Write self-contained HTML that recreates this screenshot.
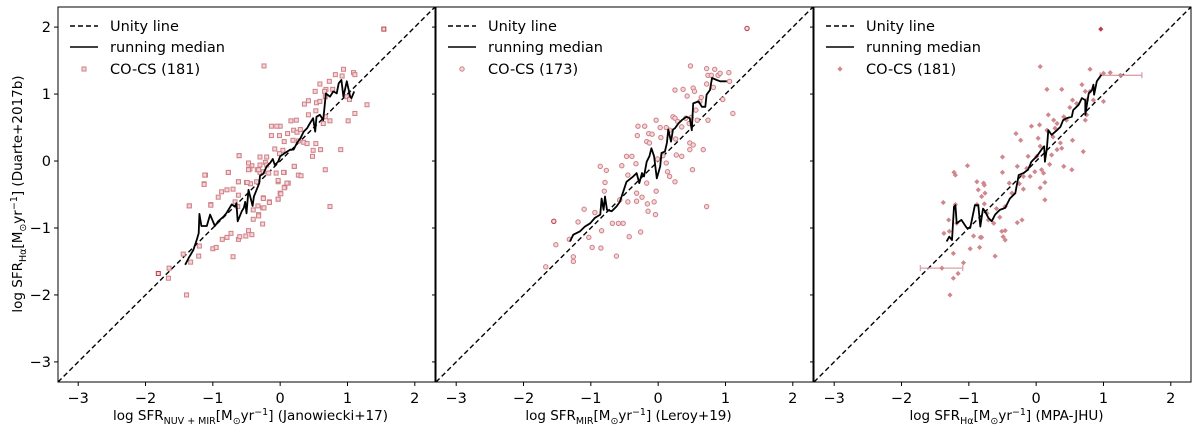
<!DOCTYPE html>
<html><head><meta charset="utf-8"><style>
body{margin:0;background:#fff}
svg{display:block;font-family:"DejaVu Sans","Liberation Sans",sans-serif}
</style></head><body>
<svg id="chart" width="1200" height="433" viewBox="0 0 1200 433" xmlns="http://www.w3.org/2000/svg">
<text transform="translate(22,194) rotate(-90)" text-anchor="middle" font-size="13.5">log SFR<tspan font-size="9.5" dy="4">Hα</tspan><tspan dy="-4">[M</tspan><tspan font-size="9.5" dy="4">⊙</tspan><tspan dy="-4">yr</tspan><tspan font-size="9.5" dy="-5">−1</tspan><tspan dy="5">] (Duarte+2017b)</tspan></text>
<g id="panels"></g>
</svg>
<script>
// Panel 1: NUV+MIR (Janowiecki+17)
const p1X=[-1.81,-1.65,-1.66,-1.39,-1.44,-1.33,-1.21,-1.20,-1.35,-1.13,-1.11,-1.03,-1.00,-0.95,-0.92,-0.87,-0.79,-0.86,-0.79,-0.73,-0.77,-0.70,-0.70,-0.62,-0.62,-0.61,-0.67,-0.63,-0.62,-0.60,-0.51,-0.47,-0.42,-0.50,-0.44,-0.47,-0.42,-0.47,-0.40,-0.32,-0.26,-0.40,-0.33,-0.26,-0.34,-0.30,-0.30,-0.20,-0.22,-0.25,-0.16,-0.06,-0.03,0.00,-0.03,0.06,0.12,0.07,0.21,0.27,-0.24,0.94,1.09,1.11,0.82,0.92,0.68,0.73,0.59,0.52,0.66,0.67,0.78,0.99,1.03,1.29,1.11,1.01,0.90,0.74,0.67,0.36,0.42,0.54,0.59,0.42,0.53,0.64,0.74,0.67,0.24,0.16,0.00,-0.05,-0.13,-0.13,-0.01,0.11,0.20,0.25,0.30,0.19,0.27,0.35,0.40,0.53,0.49,0.60,0.48,0.06,0.04,-0.08,-0.01,0.21,0.31,0.05,-0.03,0.10,0.06,0.01,-0.03,-0.61,-0.47,-0.45,-0.47,-0.30,-0.20,-0.32,-0.25,-0.17,-0.77,-0.62,-0.49,-0.35,-0.25,-0.16,-0.24,-0.32,-1.12,-1.13,-1.03,-1.35,1.54];
const p1Y=[-1.68,-1.60,-1.75,-2.00,-1.39,-1.51,-1.42,-1.27,-0.67,-0.34,-0.21,-0.65,-1.31,-1.29,-0.54,-0.46,-0.43,-1.17,-1.14,-1.08,-0.17,-1.43,-0.42,-0.51,-0.31,0.08,-0.61,-0.68,-1.17,-1.13,-1.12,-1.04,-1.10,-0.32,-0.34,-0.03,-0.07,-0.12,-0.87,-0.80,-0.94,-0.73,-0.67,-0.70,-0.13,-0.17,0.06,0.06,-0.02,-0.55,-0.61,-0.18,-0.31,-0.48,-0.57,-0.17,-0.33,-0.39,-0.08,-0.21,1.42,1.37,1.32,1.29,1.29,1.27,1.07,1.19,1.15,1.04,1.04,0.96,1.07,0.96,0.92,0.84,0.71,0.60,0.17,-0.68,-0.13,0.85,0.90,0.87,0.89,0.69,0.75,0.56,0.60,0.66,0.61,0.60,0.52,0.52,0.52,0.38,0.38,0.41,0.46,0.43,0.47,0.31,0.30,0.28,0.26,0.26,0.16,0.17,0.07,0.29,0.16,0.18,0.11,-0.08,-0.22,-0.17,-0.29,-0.33,-0.40,-0.49,-0.57,0.08,-0.03,-0.12,-0.13,-0.06,-0.06,-0.13,-0.16,-0.18,-0.17,-0.31,-0.32,-0.31,-0.56,-0.62,-0.70,-0.82,-0.21,-0.35,-0.66,-0.67,1.97];
const p1MedX=[-1.41,-1.36,-1.29,-1.24,-1.21,-1.20,-1.17,-1.09,-1.04,-0.97,-0.92,-0.84,-0.80,-0.72,-0.67,-0.65,-0.63,-0.57,-0.54,-0.52,-0.50,-0.47,-0.41,-0.39,-0.35,-0.31,-0.30,-0.25,-0.20,-0.15,-0.11,-0.08,-0.03,0.00,0.07,0.15,0.20,0.25,0.30,0.35,0.40,0.44,0.49,0.52,0.54,0.59,0.64,0.68,0.74,0.79,0.84,0.87,0.91,0.94,0.99,1.04,1.06,1.10];
const p1MedY=[-1.55,-1.45,-1.33,-1.18,-1.08,-0.79,-0.97,-0.97,-0.80,-0.97,-0.90,-0.83,-0.78,-0.65,-0.68,-0.63,-0.90,-0.75,-0.70,-0.61,-0.78,-0.43,-0.67,-0.53,-0.43,-0.33,-0.22,-0.19,-0.08,-0.03,0.03,-0.06,-0.01,0.07,0.12,0.17,0.17,0.27,0.34,0.44,0.49,0.56,0.64,0.44,0.66,0.69,0.61,1.01,0.96,1.04,1.01,1.16,1.21,0.96,1.19,0.96,0.94,1.04];

// Panel 2: MIR (Leroy+19)
const p2X=[1.32,-1.55,-1.67,-1.52,-1.26,-1.26,-1.32,-1.19,-1.10,-1.03,-0.98,-0.85,-0.84,-0.94,-0.86,-0.79,-0.77,-0.80,-0.68,-0.59,-0.52,-0.62,-0.54,-0.57,-0.43,-0.47,-0.39,-0.45,-0.45,-0.32,-0.32,-0.33,-0.30,-0.20,-0.31,-0.26,-0.24,-0.17,-0.16,-0.15,-0.14,-0.09,-0.17,-0.13,-0.04,-0.06,-0.03,-0.03,-0.01,0.03,0.04,0.07,0.12,0.17,0.14,0.17,0.12,0.22,0.25,0.25,0.37,0.29,0.35,0.26,0.27,0.35,0.25,0.41,0.46,0.49,0.48,0.43,0.47,0.52,0.47,0.51,0.52,0.54,0.56,0.58,0.67,0.64,0.62,0.72,0.74,0.72,0.72,0.74,0.79,0.84,0.89,0.92,0.82,0.96,1.05,1.06,1.11];
const p2Y=[1.98,-0.90,-1.58,-1.25,-1.43,-1.50,-1.17,-0.91,-0.72,-1.14,-1.29,-1.30,-1.04,-0.77,-0.08,-0.32,-0.14,-0.45,-0.93,-0.93,-0.93,-1.42,-0.07,-0.58,-1.13,0.07,0.07,-0.21,-0.61,-0.60,-0.48,-0.04,0.52,0.52,0.38,-1.06,-0.54,-0.33,-0.64,-0.75,0.41,0.40,0.29,0.27,-0.80,-0.61,-0.45,0.61,0.03,0.50,0.35,0.08,0.50,0.46,-0.16,-0.23,-0.03,0.66,0.64,1.06,1.07,0.59,0.51,0.33,0.09,0.07,-0.31,0.64,0.56,0.65,1.42,0.97,0.27,0.24,0.17,-0.13,1.09,1.04,0.76,0.61,0.17,0.95,0.89,1.38,1.28,1.15,-0.68,0.61,1.28,1.37,1.28,1.31,1.10,0.92,1.32,1.19,0.71];
const p2MedX=[-1.31,-1.26,-1.16,-1.09,-1.01,-0.94,-0.86,-0.84,-0.81,-0.79,-0.76,-0.69,-0.62,-0.57,-0.52,-0.47,-0.37,-0.32,-0.28,-0.24,-0.21,-0.17,-0.13,-0.10,-0.06,-0.02,0.03,0.05,0.10,0.13,0.15,0.19,0.22,0.25,0.30,0.35,0.42,0.47,0.50,0.52,0.60,0.65,0.70,0.72,0.77,0.80,0.87,0.92,1.02];
const p2MedY=[-1.20,-1.10,-1.05,-0.98,-0.93,-0.85,-0.80,-0.56,-0.73,-0.53,-0.73,-0.75,-0.68,-0.61,-0.46,-0.31,-0.23,-0.18,-0.33,-0.18,-0.23,-0.01,0.07,0.19,0.07,-0.26,-0.08,0.12,0.14,0.27,0.47,0.29,0.47,0.49,0.56,0.61,0.66,0.64,0.46,0.86,0.89,0.81,0.81,0.99,1.06,1.24,1.21,1.19,1.19];

// Panel 3: Halpha (MPA-JHU)
const p3X=[0.96,0.06,0.16,0.38,0.80,1.00,1.10,1.25,-1.40,0.68,0.73,0.80,0.75,0.85,1.00,0.54,0.60,0.50,0.73,0.75,0.18,0.26,0.31,0.28,0.41,0.45,-0.07,0.05,0.16,-0.30,-0.23,0.03,0.06,0.25,0.36,0.38,0.54,0.70,0.31,0.23,-0.12,0.01,-0.50,-0.28,-0.14,-0.02,0.08,0.11,0.20,0.41,0.53,-0.50,-0.19,-0.09,0.13,0.06,-0.40,-0.25,-0.36,-0.19,0.13,-1.02,-1.22,-1.20,-0.88,-0.78,-0.77,-0.86,-0.76,-0.81,-1.38,-1.20,-1.30,-1.18,-0.88,-0.77,-0.73,-0.71,-0.59,-0.54,-0.46,-0.63,-0.51,-0.46,-0.49,-0.46,-0.28,-0.21,-1.37,-1.29,-0.93,-0.83,-0.81,-0.84,-0.98,-1.23,-1.08,-1.16,-1.23,-1.28,-0.61];
const p3Y=[1.97,1.41,1.07,1.07,1.37,1.31,1.32,1.28,-1.60,1.14,1.04,1.04,0.91,0.91,0.89,0.91,0.86,0.80,0.61,0.69,0.69,0.61,0.56,0.49,0.66,0.61,0.52,0.54,0.46,0.41,0.31,0.34,0.22,0.36,0.27,0.19,0.31,0.14,0.17,0.09,0.07,0.07,0.06,-0.08,-0.11,-0.16,-0.13,-0.18,-0.05,-0.08,-0.13,-0.17,-0.23,-0.23,-0.32,-0.40,-0.33,-0.34,-0.48,-0.42,-0.58,-0.07,-0.17,-0.21,-0.31,-0.33,-0.36,-0.43,-0.48,-0.53,-0.62,-0.65,-0.88,-0.93,-0.65,-0.64,-0.78,-0.88,-0.71,-0.84,-0.68,-0.93,-1.05,-1.04,-1.13,-1.18,-0.92,-0.88,-1.08,-1.05,-1.12,-1.14,-1.14,-1.29,-1.31,-1.38,-1.52,-1.68,-1.75,-2.00,-1.42];
const p3ErrLo=[null,null,null,null,null,null,null,0.95,-1.72,null];
const p3ErrHi=[null,null,null,null,null,null,null,1.57,-1.09,null];
const p3MedX=[-1.33,-1.29,-1.25,-1.22,-1.20,-1.18,-1.11,-1.03,-0.98,-0.91,-0.86,-0.83,-0.79,-0.76,-0.71,-0.66,-0.61,-0.54,-0.46,-0.39,-0.31,-0.26,-0.19,-0.12,-0.07,0.01,0.08,0.12,0.13,0.16,0.18,0.23,0.31,0.36,0.40,0.45,0.53,0.55,0.63,0.68,0.73,0.73,0.78,0.83,0.85,0.86,0.90,0.97];
const p3MedY=[-1.20,-1.13,-1.18,-0.68,-0.66,-0.93,-0.88,-1.00,-1.00,-0.66,-0.66,-0.98,-0.71,-0.75,-0.85,-0.90,-0.80,-0.73,-0.70,-0.56,-0.48,-0.21,-0.18,-0.13,-0.01,0.07,0.17,0.22,-0.01,0.19,0.46,0.39,0.46,0.51,0.61,0.64,0.66,0.76,0.84,0.94,0.91,0.69,1.01,1.06,1.14,0.99,1.19,1.29];

const xTicks=[-3,-2,-1,0,1,2];
const yTicks=[2,1,0,-1,-2,-3];
const xTickLabels=["−3","−2","−1","0","1","2"];
const yTickLabels=["2","1","0","−1","−2","−3"];
const legendCounts=["CO-CS (181)","CO-CS (173)","CO-CS (181)"];

const NS="http://www.w3.org/2000/svg";
const LEFTS=[58,436,814], TOP=7, W=377, H=375, DMIN=-3.3, DMAX=2.3;
function sx(p,v){return LEFTS[p]+(v-DMIN)/(DMAX-DMIN)*W;}
function sy(v){return TOP+(DMAX-v)/(DMAX-DMIN)*H;}
function mk(tag,attrs,parent){const e=document.createElementNS(NS,tag);for(const k in attrs)e.setAttribute(k,attrs[k]);parent.appendChild(e);return e;}
const root=document.getElementById('panels');
const panels=[
 {x:p1X,y:p1Y,mx:p1MedX,my:p1MedY,marker:'square',name:'janowiecki'},
 {x:p2X,y:p2Y,mx:p2MedX,my:p2MedY,marker:'circle',name:'leroy'},
 {x:p3X,y:p3Y,mx:p3MedX,my:p3MedY,marker:'diamond',name:'mpa-jhu'}];
const xTitles=[
 ['NUV + MIR','(Janowiecki+17)'],['MIR','(Leroy+19)'],['Hα','(MPA-JHU)']];
panels.forEach((P,i)=>{
 const g=mk('g',{},root);
 
 
 const L=LEFTS[i];
 const u=mk('line',{x1:sx(i,DMIN),y1:sy(DMIN),x2:sx(i,DMAX),y2:sy(DMAX),stroke:'#000','stroke-width':1.4,'stroke-dasharray':'5,3'},g);
 
 
 if(i===2){p3ErrLo.forEach((lo,k)=>{if(lo===null)return;const hi=p3ErrHi[k];const yy=sy(P.y[k]);
   const eb=mk('path',{d:`M${sx(i,lo)},${yy}H${sx(i,hi)}M${sx(i,lo)},${yy-3}v6M${sx(i,hi)},${yy-3}v6`,stroke:'#d9a3aa','stroke-width':1.3,fill:'none'},g);
   
   });}
 P.x.forEach((xv,k)=>{const cx=sx(i,xv),cy=sy(P.y[k]);const dark=(P.y[k]>1.9)||(i===0&&xv<-1.8)||(i===1&&xv<-1.5&&P.y[k]>-1);
  const col=dark?'#b8404a':'#cf7f86';let e;
  if(P.marker==='square')e=mk('rect',{x:cx-2,y:cy-2,width:4,height:4,fill:'#f3d6d8',stroke:col,'stroke-width':1},g);
  else if(P.marker==='circle')e=mk('circle',{cx:cx,cy:cy,r:2.2,fill:'#f3d6d8',stroke:col,'stroke-width':1},g);
  else e=mk('path',{d:`M${cx},${cy-2.6}L${cx+2.6},${cy}L${cx},${cy+2.6}L${cx-2.6},${cy}Z`,fill:dark?'#b8404a':'#d0878d',stroke:'none'},g);
  
  });
 const d=P.mx.map((v,k)=>(k?'L':'M')+sx(i,v).toFixed(1)+','+sy(P.my[k]).toFixed(1)).join('');
 const m=mk('path',{d:d,fill:'none',stroke:'#000','stroke-width':1.8,'stroke-linejoin':'round'},g);
 
 
 const fr=mk('rect',{x:L,y:TOP,width:W,height:H,fill:'none',stroke:'#000','stroke-width':1},g);
 
 
 xTicks.forEach((t,k)=>{const X=sx(i,t);mk('line',{x1:X,y1:TOP+H,x2:X,y2:TOP+H+4,stroke:'#000','stroke-width':1},g);
  const tl=mk('text',{x:X,y:TOP+H+21,'text-anchor':'middle','font-size':14.5},g);tl.textContent=xTickLabels[k];
  
  });
 yTicks.forEach((t,k)=>{const Y=sy(t);mk('line',{x1:L,y1:Y,x2:L-4,y2:Y,stroke:'#000','stroke-width':1},g);
  if(i===0){const tl=mk('text',{x:L-7,y:Y+5,'text-anchor':'end','font-size':14.5},g);tl.textContent=yTickLabels[k];
   
   }});
 const xt=mk('text',{x:L+W/2+4,y:420,'text-anchor':'middle','font-size':13.5},g);
 xt.innerHTML=`log SFR<tspan font-size="9.5" dy="4">${xTitles[i][0]}</tspan><tspan dy="-4">[M</tspan><tspan font-size="9.5" dy="4">⊙</tspan><tspan dy="-4">yr</tspan><tspan font-size="9.5" dy="-5">−1</tspan><tspan dy="5">] ${xTitles[i][1]}</tspan>`;
 
 
 const lg=mk('g',{},g);
 
 
 mk('line',{x1:L+12,y1:26,x2:L+40,y2:26,stroke:'#000','stroke-width':1.4,'stroke-dasharray':'5,3'},lg);
 mk('line',{x1:L+12,y1:47,x2:L+40,y2:47,stroke:'#000','stroke-width':1.6},lg);
 if(i===0)mk('rect',{x:L+24,y:67,width:4,height:4,fill:'#f3d6d8',stroke:'#cf7f86'},lg);
 else if(i===1)mk('circle',{cx:L+26,cy:69,r:2.2,fill:'#f3d6d8',stroke:'#cf7f86'},lg);
 else mk('path',{d:`M${L+26},66.4L${L+28.6},69L${L+26},71.6L${L+23.4},69Z`,fill:'#d0878d'},lg);
 [['Unity line',31],['running median',52],[legendCounts[i],74]].forEach(([s,y])=>{const t=mk('text',{x:L+52,y:y,'font-size':14.5},lg);t.textContent=s;
  
  });
});
</script>
</body></html>
